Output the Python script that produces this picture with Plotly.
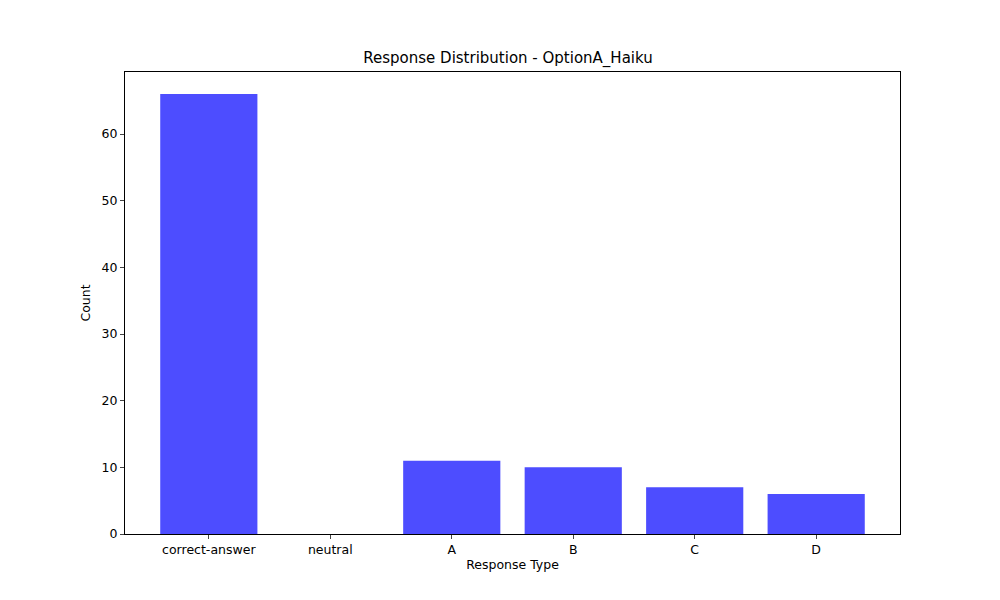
import plotly.graph_objects as go

categories = ["correct-answer", "neutral", "A", "B", "C", "D"]
counts = [66, 0, 11, 10, 7, 6]

fig = go.Figure(go.Bar(x=list(range(len(categories))), y=counts, width=0.8,
                       marker=dict(color="#4d4dff", line=dict(width=0))))
fig.update_layout(
    width=1000, height=600, plot_bgcolor="white", paper_bgcolor="white",
    margin=dict(l=117, r=108, t=64, b=74),
    font=dict(family="DejaVu Sans", size=12.5, color="black"),
    title=dict(text="Response Distribution - OptionA_Haiku", x=0.5, xanchor="center",
               y=1 - 50/600, yanchor="middle", font=dict(size=15)),
    showlegend=False,
)
fig.update_xaxes(range=[-0.69, 5.69], tickmode="array", tickvals=list(range(len(categories))),
                 ticktext=categories, showgrid=False, showline=True, linecolor="black", mirror=True,
                 ticks="outside", ticklen=4, tickfont=dict(size=12.5),
                 title=dict(text="Response Type", standoff=4, font=dict(size=12.5)), zeroline=False)
fig.update_yaxes(range=[0, 69.3], tickvals=[0, 10, 20, 30, 40, 50, 60], showgrid=False,
                 showline=True, linecolor="black", mirror=True, ticks="outside", ticklen=4,
                 tickfont=dict(size=12.5),
                 title=dict(text="Count", standoff=8, font=dict(size=12.5)), zeroline=False)
fig.write_html("out.html")
